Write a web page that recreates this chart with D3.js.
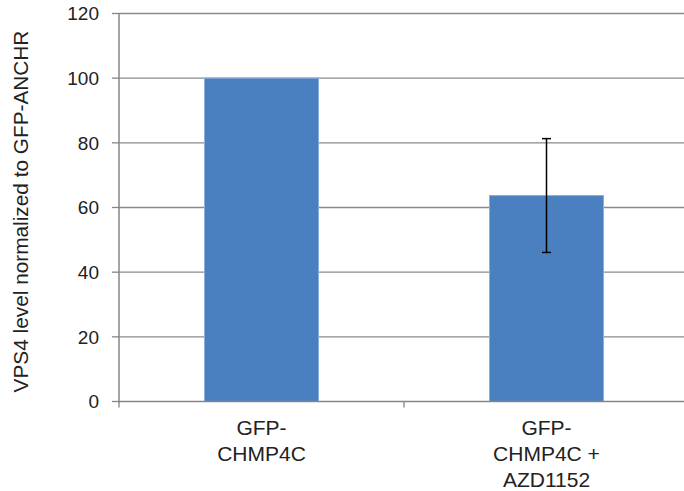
<!DOCTYPE html>
<html>
<head>
<meta charset="utf-8">
<script src="https://cdn.jsdelivr.net/npm/d3@7"></script>
<style>
  html, body { margin: 0; padding: 0; background: #fff; }
  svg { display: block; font-family: "Liberation Sans", Arial, sans-serif; }
</style>
</head>
<body>
<svg id="chart" width="684" height="491"></svg>
<script>
const categories = [["GFP-", "CHMP4C"], ["GFP-", "CHMP4C +", "AZD1152"]];
const categoryKeys = ["GFP-CHMP4C", "GFP-CHMP4C + AZD1152"];
const values = [100, 63.7];
const errors = [0, 17.6];
const yTicks = [0, 20, 40, 60, 80, 100, 120];
const yTitle = "VPS4 level normalized to GFP-ANCHR";

(function () {
const svg = d3.select("#chart");
const pLeft = 119, pRight = 689, pTop = 13.5, pBottom = 401.5;

const x = d3.scaleBand().domain(categoryKeys).range([pLeft, pRight])
  .paddingInner(0.6).paddingOuter(0.3);
const y = d3.scaleLinear().domain([0, 120]).range([pBottom, pTop]);

// gridlines
svg.append("g").selectAll("line").data(yTicks.filter(d => d > 0)).join("line")
  .attr("x1", pLeft).attr("x2", pRight)
  .attr("y1", d => y(d)).attr("y2", d => y(d))
  .attr("stroke", "#8a8a8a").attr("stroke-width", 1.3);

// bars
svg.append("g").selectAll("rect").data(values).join("rect")
  .attr("x", (d, i) => x(categoryKeys[i]))
  .attr("width", x.bandwidth())
  .attr("y", d => y(d))
  .attr("height", d => y(0) - y(d))
  .attr("fill", "#4a80bf")
  .attr("stroke", "#8badda").attr("stroke-width", 1);

// y axis
const yAxis = svg.append("g");
yAxis.append("line").attr("x1", pLeft).attr("x2", pLeft).attr("y1", pTop).attr("y2", pBottom + 1)
  .attr("stroke", "#868686").attr("stroke-width", 1.5);
yAxis.selectAll("line.tk").data(yTicks).join("line").attr("class", "tk")
  .attr("x1", pLeft - 7).attr("x2", pLeft)
  .attr("y1", d => y(d)).attr("y2", d => y(d))
  .attr("stroke", "#868686").attr("stroke-width", 1.3);
yAxis.selectAll("text").data(yTicks).join("text")
  .attr("x", 99).attr("y", d => y(d) + 6.8)
  .attr("text-anchor", "end").attr("font-size", 19).attr("fill", "#222")
  .text(d => d);

// x axis
const xAxis = svg.append("g");
xAxis.append("line").attr("x1", pLeft).attr("x2", pRight).attr("y1", pBottom).attr("y2", pBottom)
  .attr("stroke", "#868686").attr("stroke-width", 1.5);
const bounds = [pLeft].concat(categoryKeys.map(k => x(k) - x.step() * x.paddingInner() / 2 + x.step()));
xAxis.selectAll("line.tk").data(bounds).join("line").attr("class", "tk")
  .attr("x1", d => d).attr("x2", d => d).attr("y1", pBottom).attr("y2", pBottom + 6)
  .attr("stroke", "#868686").attr("stroke-width", 1.3);
categories.forEach((lines, i) => {
  const cx = x(categoryKeys[i]) + x.bandwidth() / 2;
  const t = xAxis.append("text").attr("text-anchor", "middle").attr("font-size", 21).attr("fill", "#222");
  lines.forEach((ln, j) => {
    t.append("tspan").attr("x", cx).attr("y", 434.5 + j * 26).text(ln);
  });
});

// error bars
const eb = svg.append("g");
values.forEach((v, i) => {
  if (!errors[i]) return;
  const cx = x(categoryKeys[i]) + x.bandwidth() / 2;
  eb.append("line").attr("x1", cx).attr("x2", cx)
    .attr("y1", y(v + errors[i])).attr("y2", y(v - errors[i]))
    .attr("stroke", "#000").attr("stroke-width", 1.5);
  [v + errors[i], v - errors[i]].forEach(e => {
    eb.append("line").attr("x1", cx - 4.5).attr("x2", cx + 4.5)
      .attr("y1", y(e)).attr("y2", y(e))
      .attr("stroke", "#000").attr("stroke-width", 1.5);
  });
});

// y title
svg.append("text")
  .attr("transform", "translate(28,211.5) rotate(-90)")
  .attr("text-anchor", "middle").attr("font-size", 20.8).attr("fill", "#222")
  .text(yTitle);
})();
</script>
</body>
</html>
